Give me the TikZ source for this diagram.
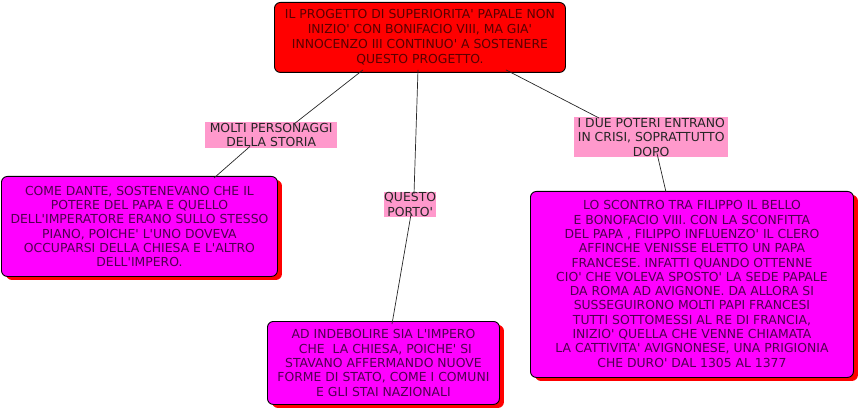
\documentclass[tikz,border=0pt]{standalone}
\usepackage{fontspec}
\setmainfont{DejaVu Sans}[Ligatures=TeXOff]
\usetikzlibrary{shadows}
\definecolor{boxred}{RGB}{255,0,0}
\definecolor{boxmag}{RGB}{255,0,255}
\definecolor{lblpink}{RGB}{255,153,204}
\definecolor{txtred}{RGB}{90,0,0}
\definecolor{txtmag}{RGB}{80,0,80}
\tikzset{
  basebox/.style={draw=black, line width=0.9pt, rounded corners=6pt, anchor=north west,
    inner sep=0pt, align=center, font=\fontsize{12.4}{14.3}\selectfont},
  topbox/.style={basebox, fill=boxred, text=txtred, font=\fontsize{12.4}{15}\selectfont},
  magbox/.style={basebox, fill=boxmag, text=txtmag,
    drop shadow={fill=boxred, opacity=1, shadow xshift=4.5pt, shadow yshift=-3.5pt}},
  lbl/.style={fill=lblpink, anchor=north west, inner sep=0pt, align=center, text=black!85,
    font=\fontsize{12.4}{14.5}\selectfont},
  conn/.style={draw=black!85, line width=0.7pt}
}
\begin{document}
\begin{tikzpicture}[x=1pt,y=-1pt]
\useasboundingbox (0,0) rectangle (860,409);

\node[topbox, minimum width=291pt, minimum height=70pt] (top) at (274,2)
  {IL PROGETTO DI SUPERIORITA' PAPALE NON\\INIZIO' CON BONIFACIO VIII, MA GIA'\\INNOCENZO III CONTINUO' A SOSTENERE\\QUESTO PROGETTO.};

\node[lbl, minimum width=132pt, minimum height=26pt] (l1) at (205,122)
  {MOLTI PERSONAGGI\\DELLA STORIA};
\node[lbl, minimum width=51pt, minimum height=25pt] (l2) at (384,192)
  {QUESTO\\PORTO'};
\node[lbl, minimum width=154pt, minimum height=40pt] (l3) at (574,117)
  {I DUE POTERI ENTRANO\\IN CRISI, SOPRATTUTTO\\DOPO};

\node[magbox, minimum width=276pt, minimum height=100pt] (left) at (1,176)
  {COME DANTE, SOSTENEVANO CHE IL\\POTERE DEL PAPA E QUELLO\\DELL'IMPERATORE ERANO SULLO STESSO\\PIANO, POICHE' L'UNO DOVEVA\\OCCUPARSI DELLA CHIESA E L'ALTRO\\DELL'IMPERO.};
\node[magbox, minimum width=232pt, minimum height=83pt] (mid) at (267,321)
  {AD INDEBOLIRE SIA L'IMPERO\\\ CHE\ \ LA CHIESA, POICHE' SI\\STAVANO AFFERMANDO NUOVE\\FORME DI STATO, COME I COMUNI\\E GLI STAI NAZIONALI};
\node[magbox, minimum width=323pt, minimum height=186pt] (right) at (530,191)
  {\rule{0pt}{0pt}\\[-6pt]LO SCONTRO TRA FILIPPO IL BELLO\\E BONOFACIO VIII. CON LA SCONFITTA\\DEL PAPA , FILIPPO INFLUENZO' IL CLERO\\AFFINCHE VENISSE ELETTO UN PAPA\\FRANCESE. INFATTI QUANDO OTTENNE\\CIO' CHE VOLEVA SPOSTO' LA SEDE PAPALE\\DA ROMA AD AVIGNONE. DA ALLORA SI\\SUSSEGUIRONO MOLTI PAPI FRANCESI\\TUTTI SOTTOMESSI AL RE DI FRANCIA,\\INIZIO' QUELLA CHE VENNE CHIAMATA\\LA CATTIVITA' AVIGNONESE, UNA PRIGIONIA\\CHE DURO' DAL 1305 AL 1377};

\draw[conn] ([xshift=89pt,yshift=3pt]top.south west) -- ([xshift=89pt,yshift=-2pt]l1.north west);
\draw[conn] ([xshift=45pt,yshift=2pt]l1.south west) -- ([xshift=213pt,yshift=-2pt]left.north west);
\draw[conn] ([xshift=144pt,yshift=3pt]top.south west) -- ([xshift=30pt,yshift=-2pt]l2.north west);
\draw[conn] ([xshift=27pt,yshift=3pt]l2.south west) -- ([xshift=125pt,yshift=-3pt]mid.north west);
\draw[conn] ([xshift=232pt,yshift=3pt]top.south west) -- ([xshift=25pt,yshift=-1pt]l3.north west);
\draw[conn] ([xshift=83pt,yshift=4pt]l3.south west) -- ([xshift=136pt,yshift=-1pt]right.north west);
\end{tikzpicture}
\end{document}
